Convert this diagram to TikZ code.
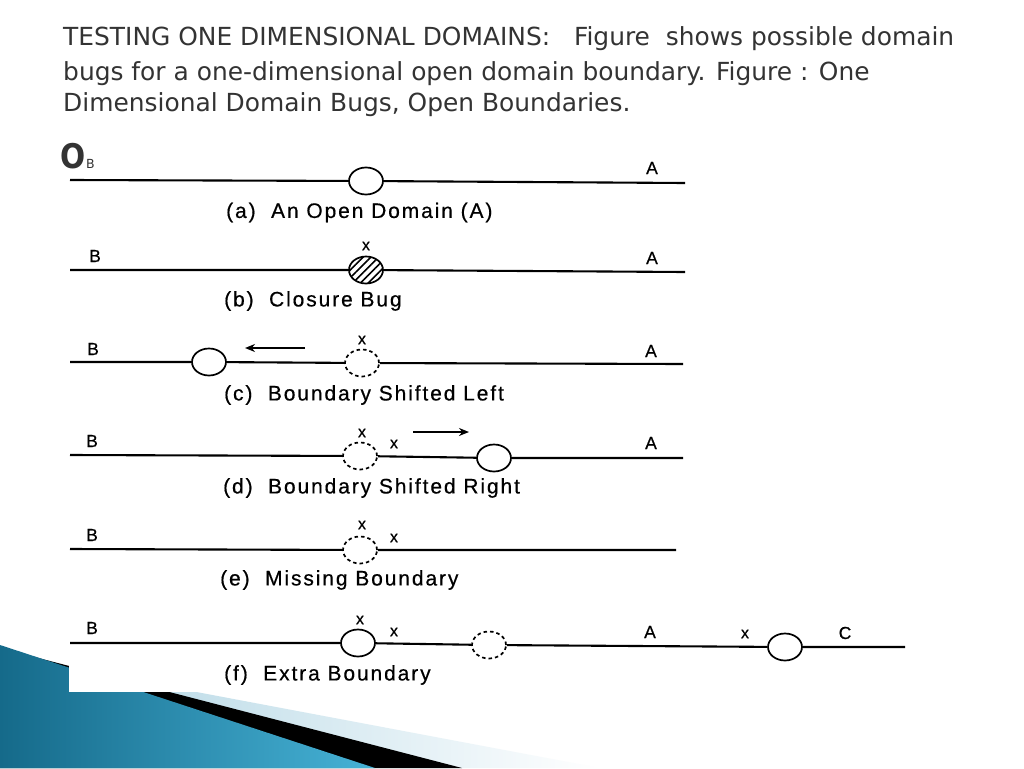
\documentclass[tikz,border=0pt]{standalone}
\usepackage{fontspec}
\setmainfont{Liberation Sans}
\newfontfamily\titlefont{DejaVu Sans}
\newfontfamily\figfont[LetterSpace=9,FakeBold=0.5]{Liberation Sans}
\usetikzlibrary{shapes.geometric,patterns.meta,arrows.meta}
\definecolor{titlegray}{HTML}{333333}
\definecolor{bluedark}{HTML}{156A8A}
\definecolor{bluelight}{HTML}{46B2D6}
\definecolor{paleblue}{HTML}{A9D1E1}
\tikzset{
  x=1pt,y=-1pt,
  ttl/.style={font=\titlefont\fontsize{24.9}{24.9}\selectfont, text=titlegray, anchor=base west, inner sep=0pt},
  lbl/.style={font=\figfont\fontsize{21}{21}\selectfont, anchor=west, inner sep=0pt},
  let/.style={font=\figfont\fontsize{17.5}{17.5}\selectfont, inner sep=0pt},
  xm/.style={font=\figfont\fontsize{16}{16}\selectfont, inner sep=0pt},
  axis/.style={line width=2.1pt},
  openb/.style={ellipse, draw, line width=1.7pt, minimum width=34pt, minimum height=27pt, inner sep=0pt, fill=white},
  dashb/.style={openb, dash pattern=on 3.5pt off 3pt},
  hatchb/.style={openb, pattern={Lines[angle=45,distance=5.5pt,line width=1.6pt]}},
  arr/.style={line width=1.9pt, -{Stealth[length=10pt,width=8pt]}},
}
\begin{document}
\begin{tikzpicture}
\useasboundingbox (0,0) rectangle (1024,768);
\fill[white] (0,0) rectangle (1024,768);
% decoration bottom left
\shade[left color=paleblue, right color=white] (0,655) -- (600,768) -- (0,768) -- cycle;
\fill[black] (0,648) -- (462,768) -- (0,768) -- cycle;
\shade[left color=bluedark, right color=bluelight] (0,645) -- (375,768) -- (0,768) -- cycle;
\fill[white] (69,130) rectangle (912,692);
% title
\node[ttl] (t1) at (63,45.7) {TESTING ONE DIMENSIONAL DOMAINS:\ \ \ Figure\ \ shows possible domain};
\node[ttl] (t2) at (63,81) {bugs for a one-dimensional open domain boundary. Figure : One};
\node[ttl] (t3) at (63,111.7) {Dimensional Domain Bugs, Open Boundaries.};
% bullet
\node[font=\titlefont\bfseries\fontsize{34}{34}\selectfont, text=titlegray, inner sep=0pt, anchor=base west] (bul) at (60,168) {\scalebox{0.87}[1]{O}};
% (a)
\node[font=\titlefont\fontsize{12.5}{12.5}\selectfont, text=titlegray, anchor=base west, inner sep=0pt] (aB) at (86,168) {B};
\coordinate (a0) at (70,180);
\coordinate (a1) at (685,183);
\node[openb] (ac) at (366,181) {};
\node[let] (aA) at (652,168) {A};
\draw[axis] (a0) -- (ac) -- (a1);
\node[lbl] (al) at (226,212.5) {(a)\ \ An Open Domain (A)};
% (b)
\node[let] (bB) at (95,256) {B};
\coordinate (b0) at (70,270);
\coordinate (b1) at (685,272);
\node[hatchb] (bc) at (366,270) {};
\node[xm] (bx) at (366,246) {x};
\node[let] (bA) at (652,258) {A};
\draw[axis] (b0) -- (bc) -- (b1);
\node[lbl] (bl) at (224,301) {(b)\ \ Closure Bug};
% (c)
\node[let] (cB) at (93,349) {B};
\coordinate (c0) at (70,362);
\coordinate (c1) at (683,364);
\node[openb] (cc) at (209,362) {};
\node[dashb] (cd) at (362,363) {};
\node[xm] (cx) at (362,340) {x};
\coordinate (cs) at (305,348);
\coordinate (ce) at (245,348);
\draw[arr] (cs) -- (ce);
\node[let] (cA) at (651,351) {A};
\draw[axis] (c0) -- (cc) -- (cd) -- (c1);
\node[lbl] (cl) at (224,395) {(c)\ \ Boundary Shifted Left};
% (d)
\node[let] (dB) at (92,441) {B};
\coordinate (d0) at (70,455);
\coordinate (d1) at (683,458);
\node[dashb] (dd) at (360,456) {};
\node[xm] (dx1) at (362,433) {x};
\node[xm] (dx2) at (394,444) {x};
\coordinate (ds) at (413,432);
\coordinate (de) at (469,432);
\draw[arr] (ds) -- (de);
\node[openb] (dc) at (494,458) {};
\node[let] (dA) at (651,443) {A};
\draw[axis] (d0) -- (dd) -- (dc) -- (d1);
\node[lbl] (dl) at (223,488) {(d)\ \ Boundary Shifted Right};
% (e)
\node[let] (eB) at (92,535) {B};
\coordinate (e0) at (70,549);
\coordinate (e1) at (676,550);
\node[dashb] (ed) at (360,550) {};
\node[xm] (ex1) at (362,525) {x};
\node[xm] (ex2) at (394,538) {x};
\draw[axis] (e0) -- (ed) -- (e1);
\node[lbl] (el) at (220,580) {(e)\ \ Missing Boundary};
% (f)
\node[let] (fB) at (92,628) {B};
\coordinate (f0) at (70,643);
\coordinate (f1) at (905,647);
\node[openb] (fc1) at (358,643) {};
\node[xm] (fx1) at (360,620) {x};
\node[xm] (fx2) at (394,632) {x};
\node[dashb] (fd) at (489,645) {};
\node[let] (fA) at (650,632) {A};
\node[xm] (fx3) at (745,634) {x};
\node[openb] (fc2) at (785,647) {};
\node[let] (fC) at (845,633) {C};
\draw[axis] (f0) -- (fc1) -- (fd) -- (fc2) -- (f1);
\node[lbl] (fl) at (224,675) {(f)\ \ Extra Boundary};
\end{tikzpicture}
\end{document}
